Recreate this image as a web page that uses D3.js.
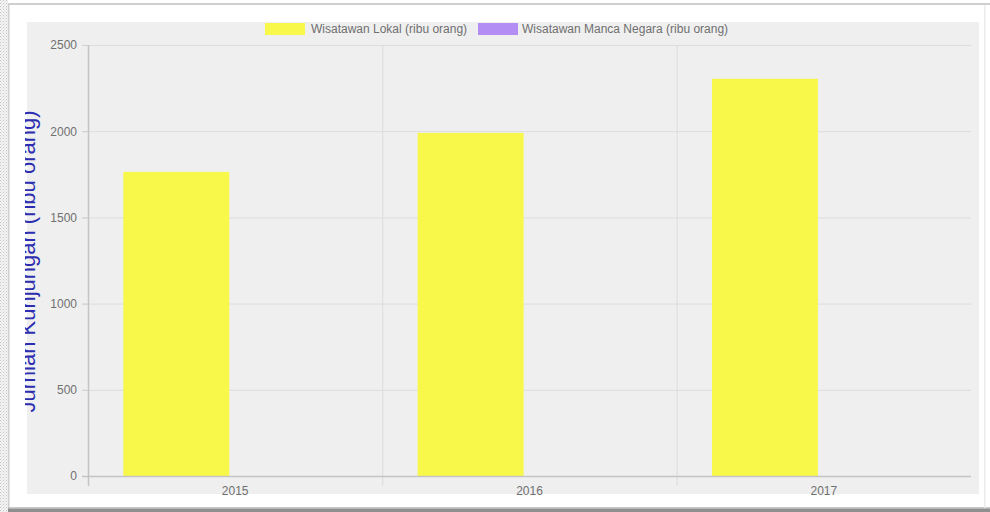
<!DOCTYPE html>
<html>
<head>
<meta charset="utf-8">
<script src="https://cdn.jsdelivr.net/npm/d3@7"></script>
<style>
  html, body { margin: 0; padding: 0; background: #ffffff; }
  svg { display: block; }
  text { font-family: "Liberation Sans", Arial, sans-serif; }
</style>
</head>
<body>
<svg id="chart" width="990" height="512"></svg>
<script>
// ---- data ----
const categories = ["2015", "2016", "2017"];
const seriesNames = ["Wisatawan Lokal (ribu orang)", "Wisatawan Manca Negara (ribu orang)"];
const lokalValues = [1764, 1990, 2304];
const mancaValues = [0, 0, 0];
const yTicks = [0, 500, 1000, 1500, 2000, 2500];
const yTitle = "Jumlah Kunjungan (ribu orang)";
const seriesColors = ["#f8f84a", "#b38cf4"];

(function () {
const seriesValues = [lokalValues, mancaValues];
const rows = categories.map((c, i) => ({
  cat: c,
  vals: seriesNames.map((s, j) => ({ s, v: seriesValues[j][i], color: seriesColors[j] }))
}));

const svg = d3.select("#chart");

// ---- frame ----
const defs = svg.append("defs");
const pat = defs.append("pattern").attr("id", "dots").attr("width", 3).attr("height", 3)
  .attr("patternUnits", "userSpaceOnUse");
pat.append("rect").attr("width", 3).attr("height", 3).attr("fill", "#f4f4f4");
pat.append("rect").attr("width", 1).attr("height", 1).attr("fill", "#c4c4c4");
pat.append("rect").attr("x", 1.5).attr("y", 1.5).attr("width", 1).attr("height", 1).attr("fill", "#d0d0d0");
svg.append("rect").attr("x", 0).attr("y", 0).attr("width", 8).attr("height", 512).attr("fill", "url(#dots)");
svg.append("rect").attr("x", 8).attr("y", 3).attr("width", 982).attr("height", 2).attr("fill", "#cfcfcf");
svg.append("rect").attr("x", 8).attr("y", 3).attr("width", 1.5).attr("height", 506).attr("fill", "#cfcfcf");
svg.append("rect").attr("x", 8).attr("y", 507).attr("width", 982).attr("height", 1.5).attr("fill", "#c8c8c8");
svg.append("rect").attr("x", 8).attr("y", 508.5).attr("width", 982).attr("height", 3.5).attr("fill", "#8f8f8f");
svg.append("rect").attr("x", 984).attr("y", 5).attr("width", 1.5).attr("height", 503).attr("fill", "#ececec");

// chart panel background
svg.append("rect").attr("x", 27).attr("y", 22).attr("width", 952).attr("height", 472)
  .attr("fill", "#efefef");

// ---- scales ----
const pLeft = 88, pRight = 971, pTop = 45, pBottom = 476;
const x = d3.scaleBand().domain(categories).range([pLeft, pRight]).paddingInner(0).paddingOuter(0);
const bw = x.bandwidth();
const xs = d3.scaleBand().domain(seriesNames).range([0.1 * bw, 0.9 * bw])
  .paddingInner(0.1).paddingOuter(0.05);
const y = d3.scaleLinear().domain([0, 2500]).range([pBottom, pTop]);

// ---- grid ----
const gridColor = "#dcdcdc";
svg.append("g").selectAll("line").data(yTicks).join("line")
  .attr("x1", pLeft - 6).attr("x2", pRight)
  .attr("y1", d => y(d) + 0.5).attr("y2", d => y(d) + 0.5)
  .attr("stroke", gridColor).attr("stroke-width", 1);

const vlines = categories.slice(1).map(c => x(c));
svg.append("g").selectAll("line").data(vlines).join("line")
  .attr("x1", d => d + 0.5).attr("x2", d => d + 0.5)
  .attr("y1", pTop).attr("y2", pBottom + 10)
  .attr("stroke", gridColor).attr("stroke-width", 1);

// ---- bars ----
svg.append("g").selectAll("g").data(rows).join("g")
  .attr("transform", d => `translate(${x(d.cat)},0)`)
  .selectAll("rect").data(d => d.vals).join("rect")
  .attr("x", d => xs(d.s)).attr("width", xs.bandwidth())
  .attr("y", d => y(d.v)).attr("height", d => y(0) - y(d.v))
  .attr("fill", d => d.color);

// ---- axes ----
const yAxis = svg.append("g").attr("transform", `translate(${pLeft},0)`)
  .call(d3.axisLeft(y).tickValues(yTicks).tickFormat(d3.format("d")).tickSize(6).tickPadding(5));
yAxis.select(".domain").attr("stroke", "#c4c4c4").attr("stroke-width", 1.5)
  .attr("d", `M0.5,${pTop}V${pBottom + 10}`);
yAxis.selectAll(".tick line").attr("stroke", "#d0d0d0");
yAxis.selectAll(".tick text").attr("fill", "#707070").attr("font-size", 12)
  .attr("font-family", "Liberation Sans, Arial, sans-serif");

const xAxis = svg.append("g").attr("transform", `translate(0,${pBottom})`)
  .call(d3.axisBottom(x).tickSize(0).tickPadding(10));
xAxis.select(".domain").attr("stroke", "#c4c4c4").attr("stroke-width", 1.5)
  .attr("d", `M${pLeft - 6},0.5H${pRight}`);
xAxis.selectAll(".tick text").attr("fill", "#707070").attr("font-size", 12)
  .attr("font-family", "Liberation Sans, Arial, sans-serif");

// ---- y title (clipped at left like the reference) ----
defs.append("clipPath").attr("id", "titleclip").append("rect")
  .attr("x", 25).attr("y", 0).attr("width", 60).attr("height", 512);
svg.append("g").attr("clip-path", "url(#titleclip)")
  .append("text")
  .attr("transform", `translate(35,${(pTop + pBottom) / 2 + 1}) rotate(-90)`)
  .attr("text-anchor", "middle")
  .attr("font-size", 22)
  .attr("fill", "#2d2db0")
  .text(yTitle);

// ---- legend ----
const legendItems = [
  { name: seriesNames[0], color: seriesColors[0], bx: 265, tx: 311 },
  { name: seriesNames[1], color: seriesColors[1], bx: 478, tx: 522 }
];
const lg = svg.append("g").selectAll("g").data(legendItems).join("g");
lg.append("rect").attr("x", d => d.bx).attr("y", 23).attr("width", 40).attr("height", 12)
  .attr("fill", d => d.color);
lg.append("text").attr("x", d => d.tx).attr("y", 33).attr("font-size", 12)
  .attr("fill", "#707070").text(d => d.name);
})();
</script>
</body>
</html>
